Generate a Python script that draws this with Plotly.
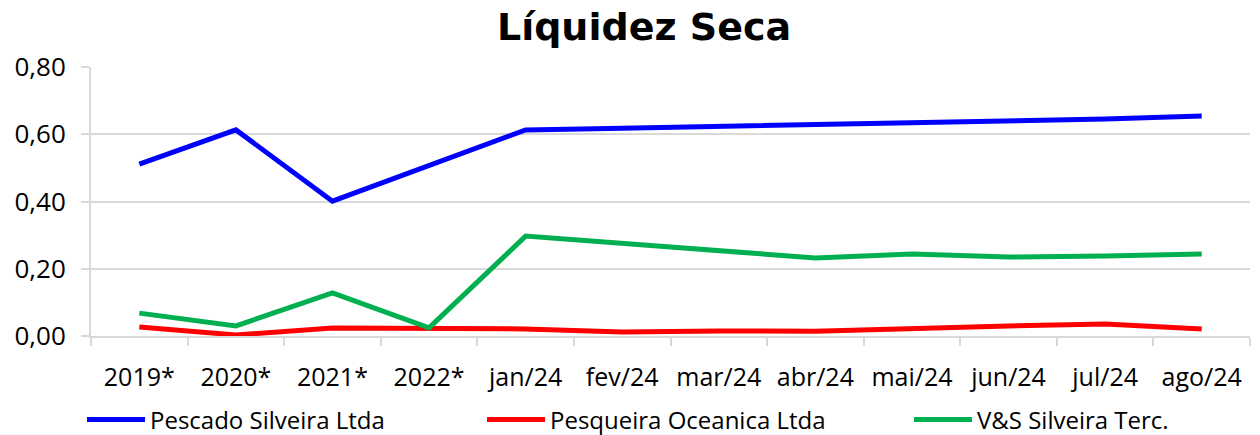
import plotly.graph_objects as go

categories = ["2019*", "2020*", "2021*", "2022*", "jan/24", "fev/24", "mar/24",
              "abr/24", "mai/24", "jun/24", "jul/24", "ago/24"]
pescado = [0.511, 0.613, 0.401, 0.508, 0.613, 0.618, 0.623, 0.628, 0.634, 0.639, 0.645, 0.654]
pesqueira = [0.027, 0.003, 0.024, 0.024, 0.021, 0.012, 0.015, 0.014, 0.023, 0.030, 0.036, 0.021]
vs_silveira = [0.068, 0.030, 0.128, 0.024, 0.297, 0.275, 0.254, 0.232, 0.244, 0.235, 0.238, 0.244]
y_ticks = [0.0, 0.2, 0.4, 0.6, 0.8]

series = [
    ("Pescado Silveira Ltda", pescado, "#0000FF", 5, "legend", 82),
    ("Pesqueira Oceanica Ltda", pesqueira, "#FF0000", 5, "legend2", 482),
    ("V&S Silveira Terc.", vs_silveira, "#00B050", 5, "legend3", 909),
]

fig = go.Figure()
legends = {}
for name, vals, color, w, leg, lx in series:
    fig.add_trace(go.Scatter(x=categories, y=vals, name=name, mode="lines",
                             line=dict(color=color, width=w), legend=leg))
    legends[leg] = dict(orientation="h", x=lx / 1260, xref="container", xanchor="left",
                        y=1 - 420 / 435, yref="container", yanchor="middle",
                        font=dict(family="Open Sans", size=24, color="black"),
                        itemwidth=58, bgcolor="rgba(0,0,0,0)")

fig.update_layout(
    width=1260, height=435,
    margin=dict(l=91, r=10, t=67, b=99, autoexpand=False),
    paper_bgcolor="white", plot_bgcolor="white",
    separators=",.",
    title=dict(text="<b>Líquidez Seca</b>", x=644 / 1260, xref="container", xanchor="center",
               y=1 - 27 / 435, yref="container", yanchor="middle",
               font=dict(family="DejaVu Sans", size=38, color="black")),
    font=dict(family="Open Sans", color="black"),
    showlegend=True,
    **legends,
)
fig.update_xaxes(type="category", range=[-0.5, len(categories) - 0.5], tickangle=0,
                 showgrid=False, showline=True, linecolor="#d9d9d9", linewidth=2,
                 ticks="outside", tickson="boundaries", ticklen=8, tickcolor="#d9d9d9", tickwidth=2,
                 ticklabelstandoff=18, automargin=False,
                 tickfont=dict(family="Open Sans", size=25, color="black"))
fig.update_yaxes(range=[0, 0.8], tickvals=y_ticks, tickformat=".2f", showgrid=True,
                 gridcolor="#d9d9d9", gridwidth=2, showline=True, linecolor="#d9d9d9", linewidth=2,
                 ticks="outside", ticklen=8, tickcolor="#d9d9d9", tickwidth=2, zeroline=False,
                 ticklabelstandoff=10, automargin=False,
                 tickfont=dict(family="Open Sans", size=26, color="black"))

fig.write_html("out.html", config={"displayModeBar": False},
               post_script="document.body.style.margin='0';")
